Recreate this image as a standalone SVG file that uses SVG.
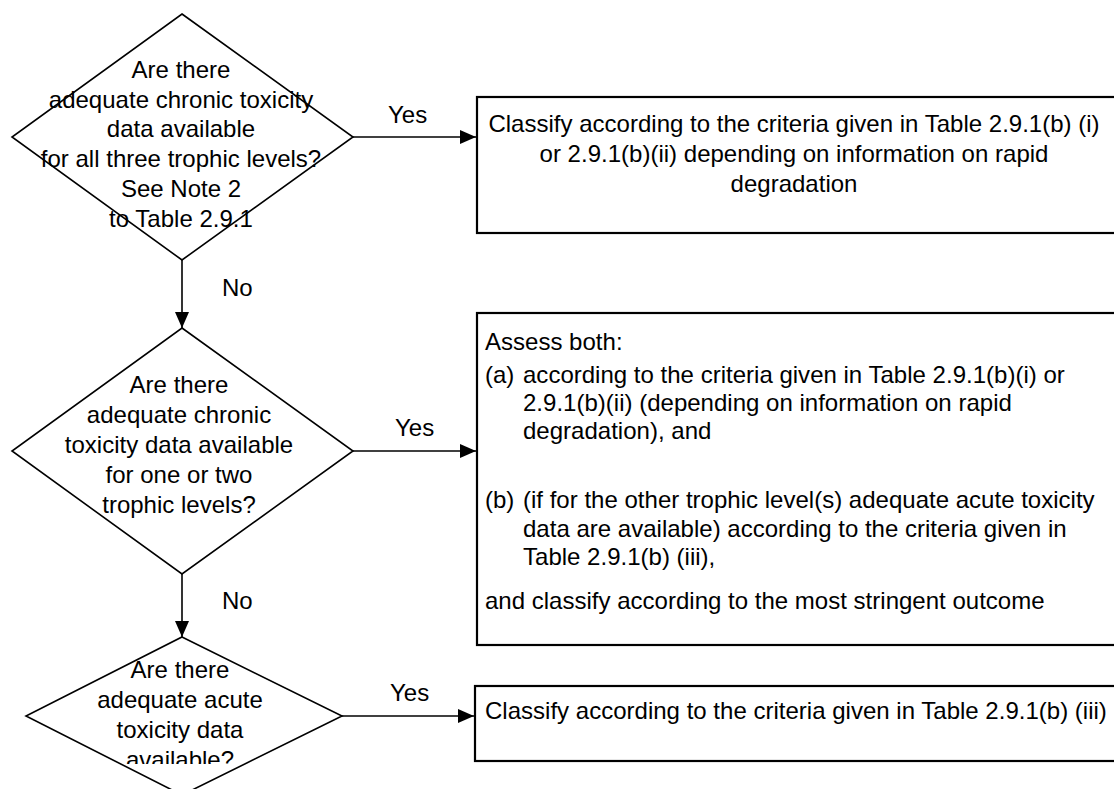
<svg xmlns="http://www.w3.org/2000/svg" width="1114" height="789" viewBox="0 0 1114 789">
<defs>
<style>
.t{font-family:"Liberation Sans",Arial,sans-serif;font-size:23px;fill:#000}
.m{text-anchor:middle}
.d{fill:#fff;stroke:#000;stroke-width:1.6}
.b{fill:#fff;stroke:#000;stroke-width:2.2}
.c{fill:none;stroke:#000;stroke-width:1.6}
</style>
<marker id="ah" viewBox="0 0 16 14" refX="16" refY="7" markerWidth="16" markerHeight="14" markerUnits="userSpaceOnUse" orient="auto"><path d="M0,0 L16,7 L0,14 z" fill="#000"/></marker>
<clipPath id="clip3"><rect x="0" y="0" width="400" height="764"/></clipPath>
</defs>
<rect width="1114" height="789" fill="#fff"/>
<g id="connectors">
<path class="c" d="M182,260 V328" marker-end="url(#ah)"/>
<path class="c" d="M182,574 V637" marker-end="url(#ah)"/>
<path class="c" d="M353,137 H476" marker-end="url(#ah)"/>
<path class="c" d="M353,451 H476" marker-end="url(#ah)"/>
<path class="c" d="M342,716 H474" marker-end="url(#ah)"/>
<text class="t" transform="matrix(1.045,0,0,1,388,0)" x="0" y="123">Yes</text>
<text class="t" transform="matrix(1.045,0,0,1,395,0)" x="0" y="436">Yes</text>
<text class="t" transform="matrix(1.045,0,0,1,390,0)" x="0" y="701">Yes</text>
<text class="t" transform="matrix(1.045,0,0,1,222,0)" x="0" y="296">No</text>
<text class="t" transform="matrix(1.045,0,0,1,222,0)" x="0" y="609">No</text>
</g>
<g id="q1">
<polygon class="d" points="182,14 353,137 182,260 12,137"/>
<g class="t m">
<text transform="matrix(1.045,0,0,1,181,0)" x="0" y="78">Are there</text>
<text transform="matrix(1.045,0,0,1,181,0)" x="0" y="108">adequate chronic toxicity</text>
<text transform="matrix(1.045,0,0,1,181,0)" x="0" y="137.5">data available</text>
<text transform="matrix(1.045,0,0,1,181,0)" x="0" y="167">for all three trophic levels?</text>
<text transform="matrix(1.045,0,0,1,181,0)" x="0" y="197">See Note 2</text>
<text transform="matrix(1.045,0,0,1,181,0)" x="0" y="227">to Table 2.9.1</text>
</g>
</g>
<g id="q2">
<polygon class="d" points="182,328 353,451 182,574 12,451"/>
<g class="t m">
<text transform="matrix(1.045,0,0,1,179,0)" x="0" y="393">Are there</text>
<text transform="matrix(1.045,0,0,1,179,0)" x="0" y="423">adequate chronic</text>
<text transform="matrix(1.045,0,0,1,179,0)" x="0" y="453">toxicity data available</text>
<text transform="matrix(1.045,0,0,1,179,0)" x="0" y="483">for one or two</text>
<text transform="matrix(1.045,0,0,1,179,0)" x="0" y="513">trophic levels?</text>
</g>
</g>
<g id="q3">
<polygon class="d" points="182,637 342,716 182,795 26,716"/>
<g class="t m" clip-path="url(#clip3)">
<text transform="matrix(1.045,0,0,1,180,0)" x="0" y="678">Are there</text>
<text transform="matrix(1.045,0,0,1,180,0)" x="0" y="708">adequate acute</text>
<text transform="matrix(1.045,0,0,1,180,0)" x="0" y="738">toxicity data</text>
<text transform="matrix(1.045,0,0,1,180,0)" x="0" y="768">available?</text>
</g>
</g>
<g id="r1">
<rect class="b" x="477" y="97" width="660" height="136"/>
<g class="t m">
<text transform="matrix(1.045,0,0,1,794,0)" x="0" y="132">Classify according to the criteria given in Table 2.9.1(b) (i)</text>
<text transform="matrix(1.045,0,0,1,794,0)" x="0" y="162">or 2.9.1(b)(ii) depending on information on rapid</text>
<text transform="matrix(1.045,0,0,1,794,0)" x="0" y="192">degradation</text>
</g>
</g>
<g id="r2">
<rect class="b" x="477" y="313" width="660" height="332"/>
<g class="t">
<text transform="matrix(1.045,0,0,1,485,0)" x="0" y="350">Assess both:</text>
<text transform="matrix(1.045,0,0,1,485,0)" x="0" y="383">(a)</text>
<text transform="matrix(1.045,0,0,1,523,0)" x="0" y="383">according to the criteria given in Table 2.9.1(b)(i) or</text>
<text transform="matrix(1.045,0,0,1,523,0)" x="0" y="411">2.9.1(b)(ii) (depending on information on rapid</text>
<text transform="matrix(1.045,0,0,1,523,0)" x="0" y="439">degradation), and</text>
<text transform="matrix(1.045,0,0,1,485,0)" x="0" y="508">(b)</text>
<text transform="matrix(1.045,0,0,1,523,0)" x="0" y="508">(if for the other trophic level(s) adequate acute toxicity</text>
<text transform="matrix(1.045,0,0,1,523,0)" x="0" y="537">data are available) according to the criteria given in</text>
<text transform="matrix(1.045,0,0,1,523,0)" x="0" y="565">Table 2.9.1(b) (iii),</text>
<text transform="matrix(1.045,0,0,1,485,0)" x="0" y="609">and classify according to the most stringent outcome</text>
</g>
</g>
<g id="r3">
<rect class="b" x="475" y="686" width="660" height="75"/>
<text class="t" transform="matrix(1.045,0,0,1,485,0)" x="0" y="719">Classify according to the criteria given in Table 2.9.1(b) (iii)</text>
</g>
</svg>
